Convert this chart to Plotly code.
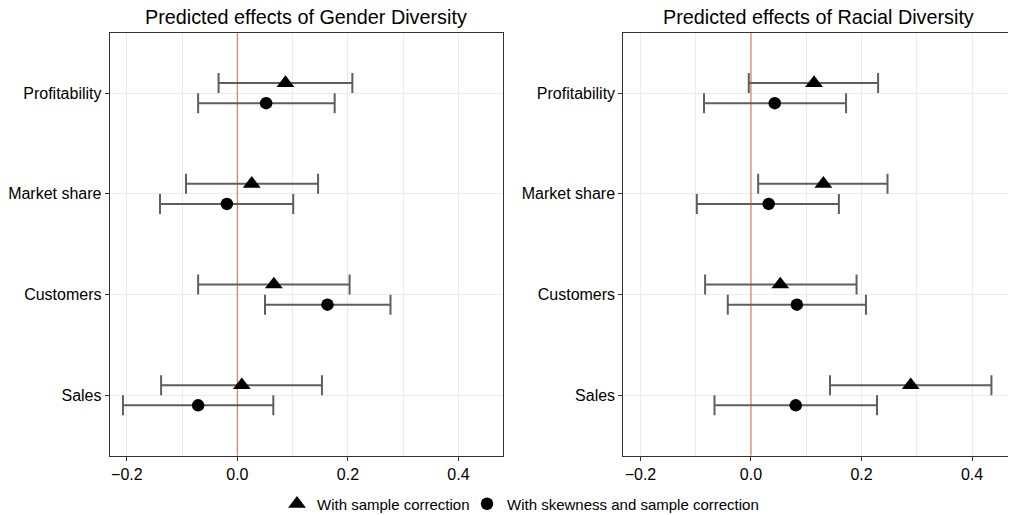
import plotly.graph_objects as go

categories = ["Sales", "Customers", "Market share", "Profitability"]
series_names = ["With sample correction", "With skewness and sample correction"]

# Gender diversity panel
gender_tri = [0.008, 0.066, 0.026, 0.087]
gender_tri_lo = [-0.138, -0.071, -0.093, -0.034]
gender_tri_hi = [0.153, 0.203, 0.146, 0.208]
gender_cir = [-0.071, 0.163, -0.019, 0.052]
gender_cir_lo = [-0.207, 0.050, -0.140, -0.071]
gender_cir_hi = [0.065, 0.277, 0.101, 0.176]

# Racial diversity panel
racial_tri = [0.289, 0.053, 0.131, 0.114]
racial_tri_lo = [0.143, -0.083, 0.013, -0.004]
racial_tri_hi = [0.435, 0.191, 0.247, 0.230]
racial_cir = [0.081, 0.083, 0.032, 0.043]
racial_cir_lo = [-0.066, -0.042, -0.098, -0.085]
racial_cir_hi = [0.228, 0.208, 0.159, 0.172]

titles = ["Predicted effects of Gender Diversity", "Predicted effects of Racial Diversity"]
x_ticks = [-0.2, 0.0, 0.2, 0.4]
ref_value = 0.0

FONT = "Liberation Sans, Arial, Helvetica, sans-serif"
ERR_COLOR = "#5e5e5e"
GRID = "#ebebeb"

OFF = 8  # page body margin
W, H = 1016, 515


def px_x(v):
    return (v - OFF) / W


def px_y(v):
    return 1 - (v - OFF) / H


Y_RANGE = [0.4, 4.6]
X_RANGE = [-0.231, 0.48]
LEFT_PANEL = (109.7, 502.7)
RIGHT_PANEL = (623.3, 1016.3)

fig = go.Figure()

panels = [
    (gender_tri, gender_tri_lo, gender_tri_hi, gender_cir, gender_cir_lo, gender_cir_hi),
    (racial_tri, racial_tri_lo, racial_tri_hi, racial_cir, racial_cir_lo, racial_cir_hi),
]
dodge = 0.1
base_pos = [i + 1 for i in range(len(categories))]

for p, (tv, tlo, thi, cv, clo, chi) in enumerate(panels):
    xa = "x" if p == 0 else "x2"
    ya = "y" if p == 0 else "y2"
    # reference line at zero
    fig.add_trace(go.Scatter(
        x=[ref_value, ref_value], y=Y_RANGE, mode="lines",
        line=dict(color="#d9805f", width=1.2), showlegend=False, hoverinfo="skip",
        xaxis=xa, yaxis=ya,
    ))
    for k, (name, vals, lo, hi, off, sym, size) in enumerate([
        (series_names[0], tv, tlo, thi, dodge, "triangle-up", 15.5),
        (series_names[1], cv, clo, chi, -dodge, "circle", 12.5),
    ]):
        extra = dict(legendwidth=145) if k == 0 else {}
        fig.add_trace(go.Scatter(
            x=vals,
            y=[b + off for b in base_pos],
            mode="markers",
            name=name,
            showlegend=(p == 0),
            legendgroup=name,
            marker=dict(symbol=sym, size=size, color="black", line=dict(width=0)),
            error_x=dict(
                type="data", symmetric=False,
                array=[h - v for h, v in zip(hi, vals)],
                arrayminus=[v - l for v, l in zip(vals, lo)],
                color=ERR_COLOR, thickness=2, width=10,
            ),
            xaxis=xa, yaxis=ya,
            **extra,
        ))

ydom = [px_y(455.7), px_y(32.7)]
xdoms = [[px_x(LEFT_PANEL[0]), px_x(LEFT_PANEL[1])], [px_x(RIGHT_PANEL[0]), px_x(RIGHT_PANEL[1])]]

axis_common = dict(
    range=X_RANGE,
    tickvals=x_ticks,
    ticktext=[f"{v:.1f}".replace("-", "\u2212") for v in x_ticks],
    showgrid=True, gridcolor=GRID, gridwidth=1,
    minor=dict(dtick=0.1, tick0=-0.3, showgrid=True, gridcolor=GRID, gridwidth=1),
    zeroline=False,
    showline=True, linecolor="#333333", linewidth=1, mirror=True,
    ticks="outside", ticklen=4, tickcolor="#333333",
    tickfont=dict(family=FONT, size=16, color="black"),
    automargin=False,
)
yaxis_common = dict(
    range=Y_RANGE,
    tickvals=base_pos, ticktext=categories,
    showgrid=True, gridcolor=GRID, gridwidth=1,
    zeroline=False,
    showline=True, linecolor="#333333", linewidth=1, mirror=True,
    ticks="outside", ticklen=4, tickcolor="#333333",
    tickfont=dict(family=FONT, size=16, color="black"),
    automargin=False,
)

fig.update_layout(
    width=W, height=H,
    margin=dict(l=0, r=0, t=0, b=0, autoexpand=False),
    paper_bgcolor="white", plot_bgcolor="white",
    font=dict(family=FONT, color="black"),
    xaxis=dict(domain=xdoms[0], anchor="y", **axis_common),
    yaxis=dict(domain=ydom, anchor="x", **yaxis_common),
    xaxis2=dict(domain=xdoms[1], anchor="y2", **axis_common),
    yaxis2=dict(domain=ydom, anchor="x2", **yaxis_common),
    legend=dict(
        orientation="h", x=px_x(277), xanchor="left", y=px_y(504), yanchor="middle",
        font=dict(family=FONT, size=15, color="black"),
        itemsizing="trace", itemwidth=30,
    ),
    showlegend=True,
)

title_centers = [(LEFT_PANEL[0] + LEFT_PANEL[1]) / 2, 818]
for p, t in enumerate(titles):
    fig.add_annotation(
        text=t, xref="paper", yref="paper",
        x=px_x(title_centers[p]), y=px_y(17),
        xanchor="center", yanchor="middle", showarrow=False,
        font=dict(family=FONT, size=19.8, color="black"),
    )

fig.write_html("out.html")
